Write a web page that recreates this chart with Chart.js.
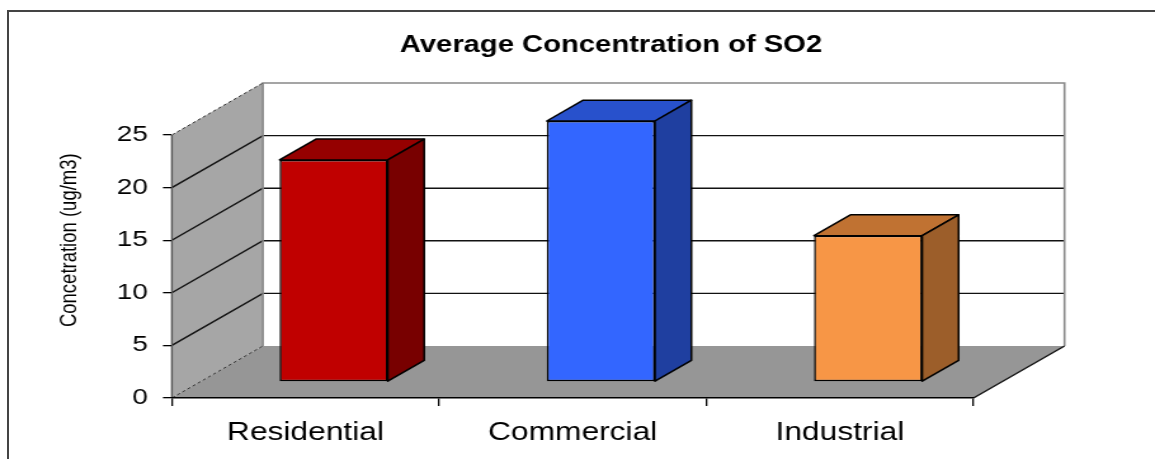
<!DOCTYPE html>
<html>
<head>
<meta charset="utf-8">
<title>Average Concentration of SO2</title>
<script src="https://cdn.jsdelivr.net/npm/chart.js@4"></script>
<style>
    html, body { margin: 0; padding: 0; background: #fff; overflow: hidden; width: 1155px; height: 459px; }
    #frame { position: absolute; left: 7px; top: 10px; width: 1300px; height: 600px; border: 2px solid #444; }
    /* the reference is stretched sideways, so the chart is drawn narrower and scaled out */
    #wrap { position: absolute; left: 0; top: 0; width: 910px; height: 459px; transform: scaleX(1.26923); transform-origin: 0 0; }
</style>
</head>
<body>
<div id="frame"></div>
<div id="wrap"><canvas id="so2-chart"></canvas></div>
<script>
// Data
const categories = ['Residential', 'Commercial', 'Industrial'];
const so2Values = [21.1, 24.8, 13.9];
const yTickValues = [0, 5, 10, 15, 20, 25];

// Colours of the three boxes (front, top, side)
const frontColors = ['#C00000', '#3366FF', '#F79646'];
const topColors = ['#950000', '#2851CC', '#C07232'];
const sideColors = ['#780000', '#1F3FA0', '#9C5E2A'];

// 3D projection of the plot box
const DEPTH_X = 71.7;
const DEPTH_Y = -52;
const BAR_FRONT = 0.31;   // where the bar front sits inside the depth
const BAR_DEPTH = 0.40;   // how deep the bar is

const FONT = '"Liberation Sans", Arial, sans-serif';

// Draws floor, walls and the box sides/tops
const depthPlugin = {
    id: 'depth3d',
    beforeDraw(chart) {
        const ctx = chart.ctx;
        const xs = chart.scales.x;
        const ys = chart.scales.y;
        const x0 = xs.left, x1 = xs.right;
        const y0 = ys.getPixelForValue(0);
        const yTop = ys.getPixelForValue(yTickValues[yTickValues.length - 1]);
        const dx = DEPTH_X, dy = DEPTH_Y;

        ctx.save();

        // floor
        ctx.fillStyle = '#969696';
        ctx.beginPath();
        ctx.moveTo(x0, y0);
        ctx.lineTo(x1, y0);
        ctx.lineTo(x1 + dx, y0 + dy);
        ctx.lineTo(x0 + dx, y0 + dy);
        ctx.closePath();
        ctx.fill();

        // left wall
        ctx.fillStyle = '#A6A6A6';
        ctx.beginPath();
        ctx.moveTo(x0, y0);
        ctx.lineTo(x0, yTop);
        ctx.lineTo(x0 + dx, yTop + dy);
        ctx.lineTo(x0 + dx, y0 + dy);
        ctx.closePath();
        ctx.fill();

        // back wall
        ctx.fillStyle = '#FFFFFF';
        ctx.fillRect(x0 + dx, yTop + dy, x1 - x0, y0 - yTop);

        // gridlines on both walls
        ctx.strokeStyle = '#111';
        ctx.lineWidth = 1.4;
        yTickValues.slice(1, -1).forEach(v => {
            const py = ys.getPixelForValue(v);
            ctx.beginPath();
            ctx.moveTo(x0, py);
            ctx.lineTo(x0 + dx, py + dy);
            ctx.lineTo(x1 + dx, py + dy);
            ctx.stroke();
        });

        // back wall border
        ctx.strokeStyle = '#888';
        ctx.lineWidth = 1.6;
        ctx.beginPath();
        ctx.moveTo(x0 + dx, y0 + dy);
        ctx.lineTo(x0 + dx, yTop + dy);
        ctx.lineTo(x1 + dx, yTop + dy);
        ctx.lineTo(x1 + dx, y0 + dy);
        ctx.stroke();

        // left wall front edge
        ctx.strokeStyle = '#555';
        ctx.lineWidth = 1.4;
        ctx.beginPath();
        ctx.moveTo(x0, y0);
        ctx.lineTo(x0, yTop);
        ctx.stroke();

        // floor right edge
        ctx.strokeStyle = '#111';
        ctx.beginPath();
        ctx.moveTo(x1, y0);
        ctx.lineTo(x1 + dx, y0 + dy);
        ctx.stroke();

        // dashed edges of the left wall
        ctx.strokeStyle = '#333';
        ctx.lineWidth = 1;
        ctx.setLineDash([3, 2]);
        [y0, yTop].forEach(py => {
            ctx.beginPath();
            ctx.moveTo(x0, py);
            ctx.lineTo(x0 + dx, py + dy);
            ctx.stroke();
        });
        ctx.setLineDash([]);

        ctx.restore();
    },
    beforeDatasetDraw(chart) {
        // push the bars back into the middle of the floor
        chart.ctx.save();
        chart.ctx.translate(DEPTH_X * BAR_FRONT, DEPTH_Y * BAR_FRONT);
    },
    afterDatasetDraw(chart, args) {
        const ctx = chart.ctx;
        const bdx = DEPTH_X * BAR_DEPTH, bdy = DEPTH_Y * BAR_DEPTH;
        const meta = chart.getDatasetMeta(args.index);
        meta.data.forEach((bar, i) => {
            const p = bar.getProps(['x', 'y', 'base', 'width'], true);
            const l = p.x - p.width / 2, r = p.x + p.width / 2;
            ctx.lineWidth = 1.5;
            ctx.strokeStyle = '#000';
            ctx.lineJoin = 'round';

            // top face
            ctx.fillStyle = topColors[i];
            ctx.beginPath();
            ctx.moveTo(l, p.y);
            ctx.lineTo(r, p.y);
            ctx.lineTo(r + bdx, p.y + bdy);
            ctx.lineTo(l + bdx, p.y + bdy);
            ctx.closePath();
            ctx.fill();
            ctx.stroke();

            // side face
            ctx.fillStyle = sideColors[i];
            ctx.beginPath();
            ctx.moveTo(r, p.y);
            ctx.lineTo(r + bdx, p.y + bdy);
            ctx.lineTo(r + bdx, p.base + bdy);
            ctx.lineTo(r, p.base);
            ctx.closePath();
            ctx.fill();
            ctx.stroke();
        });
        ctx.restore();
    }
};

const ctx = document.getElementById('so2-chart').getContext('2d');
new Chart(ctx, {
    type: 'bar',
    data: {
        labels: categories,
        datasets: [{
            data: so2Values,
            backgroundColor: frontColors,
            borderColor: '#000',
            borderWidth: 1.5,
            borderSkipped: false,
            barPercentage: 0.405,
            categoryPercentage: 1,
            clip: false
        }]
    },
    options: {
        responsive: true,
        maintainAspectRatio: false,
        animation: false,
        layout: { padding: { left: 32.8, right: -20, top: 20, bottom: 0 } },
        plugins: {
            legend: { display: false },
            tooltip: { enabled: false },
            title: {
                display: true,
                text: 'Average Concentration of SO2',
                color: '#000',
                font: { family: FONT, size: 23, weight: 'bold' },
                padding: { top: 11.7, bottom: 23.1 }
            }
        },
        scales: {
            x: {
                grid: { drawOnChartArea: false, tickLength: 8, color: '#000', lineWidth: 1.3 },
                border: { display: true, color: '#000', width: 1.5 },
                ticks: { padding: 12, color: '#000', font: { family: FONT, size: 25 } },
                afterFit: s => { s.height = 61; }
            },
            y: {
                min: 0,
                max: 30,
                afterBuildTicks: s => { s.ticks = yTickValues.map(v => ({ value: v })); },
                grid: { drawOnChartArea: false, tickLength: 7, color: '#000', lineWidth: 1.3 },
                border: { display: false },
                ticks: { padding: 12, color: '#000', font: { family: FONT, size: 22 } },
                title: {
                    display: true,
                    text: 'Concetration (ug/m3)',
                    color: '#000',
                    font: { family: FONT, size: 18.5 },
                    padding: { top: 11.1, bottom: 0 }
                },
                afterFit: s => { s.width = 102.6; }
            },
            // empty right axis, only keeps room so the title lands where it should
            y2: {
                position: 'right',
                display: true,
                grid: { display: false },
                border: { display: false },
                ticks: { display: false },
                afterFit: s => { s.width = 163; }
            }
        }
    },
    plugins: [depthPlugin]
});
</script>
</body>
</html>
